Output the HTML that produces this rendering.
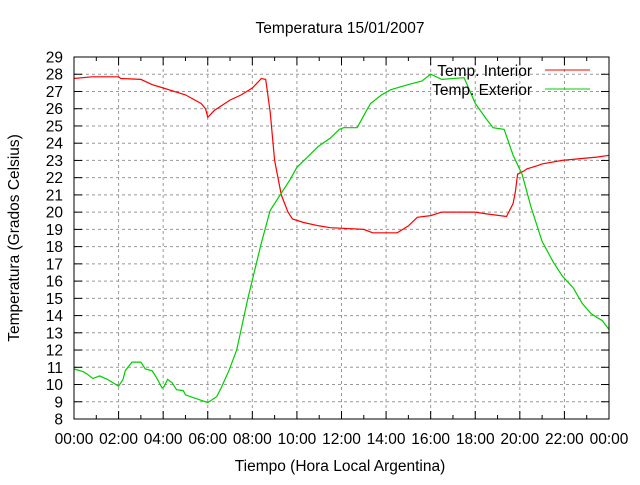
<!DOCTYPE html>
<html><head><meta charset="utf-8"><style>
body{margin:0;background:#fff;}
svg text{font-family:"Liberation Sans",sans-serif;font-size:15.5px;fill:#000;}
</style></head><body>
<svg id="chart" width="640" height="480" xmlns="http://www.w3.org/2000/svg">
<rect width="640" height="480" fill="#fff"/>
<g id="grid"></g>
<g id="ticks"></g>
<g id="series"></g>
<rect x="74" y="57" width="535" height="362" fill="none" stroke="#000" stroke-width="1"/>
<text x="340" y="33" text-anchor="middle">Temperatura 15/01/2007</text>
<text x="340" y="471" text-anchor="middle">Tiempo (Hora Local Argentina)</text>
<text x="19" y="238" text-anchor="middle" transform="rotate(-90 19 238)">Temperatura (Grados Celsius)</text>
<g>
<text x="532" y="76" text-anchor="end">Temp. Interior</text>
<line x1="545" y1="70" x2="590" y2="70" stroke="#f00" stroke-width="1"/>
<text x="532" y="95" text-anchor="end">Temp. Exterior</text>
<line x1="545" y1="89" x2="590" y2="89" stroke="#0c0" stroke-width="1"/>
</g>
</svg>
<script>
const xTickLabels=["00:00","02:00","04:00","06:00","08:00","10:00","12:00","14:00","16:00","18:00","20:00","22:00","00:00"];
const yTickValues=[8,9,10,11,12,13,14,15,16,17,18,19,20,21,22,23,24,25,26,27,28,29];
const interiorHours=[0,0.8,2.0,2.1,3.0,3.5,4.0,5.0,5.7,5.9,6.0,6.3,7.0,7.5,8.0,8.3,8.4,8.6,8.8,9.0,9.3,9.6,9.8,10.3,11.0,11.5,13.0,13.4,14.5,15.0,15.4,16.0,16.5,18.0,18.5,19.4,19.7,19.8,19.9,20.2,20.3,20.8,21.0,21.9,23.5,24.0];
const interiorTemps=[27.75,27.85,27.85,27.75,27.7,27.4,27.2,26.8,26.3,26.0,25.5,25.9,26.5,26.8,27.2,27.6,27.75,27.7,25.8,23.0,21.0,20.0,19.6,19.4,19.2,19.1,19.0,18.8,18.8,19.2,19.7,19.8,20.0,20.0,19.9,19.75,20.5,21.2,22.2,22.4,22.5,22.7,22.8,23.0,23.2,23.3];
const exteriorHours=[0,0.4,0.6,0.85,1.15,1.5,2.0,2.2,2.3,2.6,3.0,3.2,3.5,3.7,3.95,4.05,4.2,4.4,4.6,4.9,5.0,6.0,6.4,6.6,6.95,7.3,7.8,8.4,8.8,9.3,9.7,10.0,10.4,10.95,11.5,11.9,12.1,12.7,13.0,13.3,13.8,14.2,15.0,15.6,16.0,16.5,17.5,18.0,18.5,18.8,19.3,19.7,20.1,20.5,21.0,21.5,21.9,22.4,22.8,23.2,23.7,24.0];
const exteriorTemps=[10.9,10.75,10.6,10.35,10.5,10.3,9.9,10.3,10.8,11.3,11.3,10.9,10.8,10.4,9.8,9.9,10.3,10.1,9.7,9.65,9.4,8.95,9.3,9.8,10.8,12.0,15.0,18.2,20.1,21.1,21.9,22.6,23.1,23.8,24.3,24.8,24.9,24.9,25.6,26.3,26.8,27.1,27.4,27.6,28.0,27.7,27.8,26.3,25.4,24.9,24.8,23.3,22.2,20.3,18.3,17.1,16.3,15.6,14.7,14.1,13.7,13.2];
const L=74,R=609,T=57,B=419,yMin=8,yMax=29,xMax=24;
function xs(h){return L+(R-L)*h/xMax;}
function ys(v){return B-(B-T)*(v-yMin)/(yMax-yMin);}
const NS="http://www.w3.org/2000/svg";
const grid=document.getElementById('grid'),ticks=document.getElementById('ticks'),series=document.getElementById('series');
function mk(tag,attrs,parent){const e=document.createElementNS(NS,tag);for(const k in attrs)e.setAttribute(k,attrs[k]);parent.appendChild(e);return e;}
xTickLabels.forEach((lab,i)=>{
  const x=xs(i*2);
  if(i>0&&i<xTickLabels.length-1){const g=mk('line',{x1:x,y1:T,x2:x,y2:B,stroke:'#999','stroke-dasharray':'3,3'},grid);
  
  }
  const t=mk('text',{x:x,y:444,'text-anchor':'middle'},ticks);
  t.textContent=lab;
  
  
});
for(let h=1;h<24;h++){
  const len=(h%2===0)?8:4,x=xs(h);
  mk('line',{x1:x,y1:B,x2:x,y2:B-len,stroke:'#000'},ticks);
  mk('line',{x1:x,y1:T,x2:x,y2:T+len,stroke:'#000'},ticks);
}
yTickValues.forEach(v=>{
  const y=ys(v);
  if(v>yMin&&v<yMax){const g=mk('line',{x1:L,y1:y,x2:R,y2:y,stroke:'#999','stroke-dasharray':'3,3'},grid);
  
  
  mk('line',{x1:L,y1:y,x2:L+8,y2:y,stroke:'#000'},ticks);
  mk('line',{x1:R,y1:y,x2:R-8,y2:y,stroke:'#000'},ticks);}
  const t=mk('text',{x:63,y:y+5.5,'text-anchor':'end'},ticks);
  t.textContent=v;
  
  
});
function line(hs,vs,color,name){
  const pts=hs.map((h,i)=>xs(h).toFixed(1)+','+ys(vs[i]).toFixed(1)).join(' ');
  const p=mk('polyline',{points:pts,fill:'none',stroke:color,'stroke-width':1.2},series);
  
  
}
line(interiorHours,interiorTemps,'#f00','interior-temp-line');
line(exteriorHours,exteriorTemps,'#0c0','exterior-temp-line');
</script>
</body></html>
